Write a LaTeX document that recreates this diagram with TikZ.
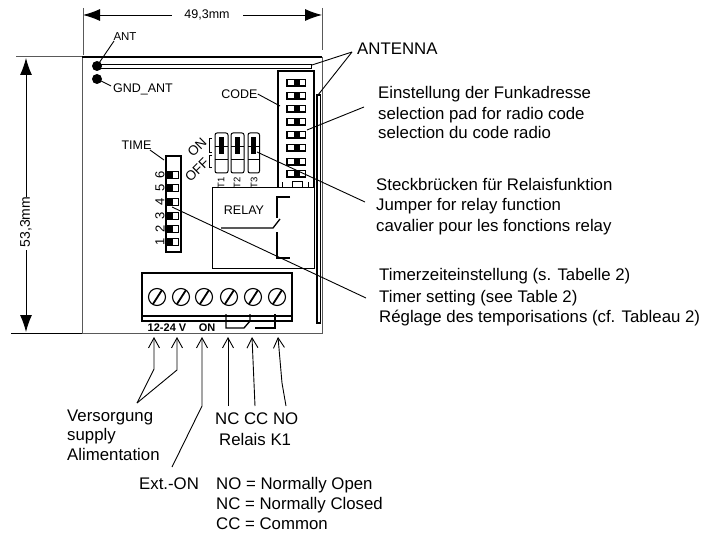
\documentclass[tikz,border=0pt]{standalone}
\usepackage{fontspec}
\setmainfont{Liberation Sans}
\usetikzlibrary{arrows.meta}
\tikzset{
  lab/.style={font=\fontsize{16.8}{19}\selectfont,anchor=base west,inner sep=0pt,align=left},
  small/.style={font=\fontsize{11.5}{13}\selectfont,inner sep=0pt},
  thin line/.style={line width=0.9pt},
  dimarrow/.style={line width=0.9pt,{Latex[length=17pt,width=12pt]}-},
  openarrow/.style={line width=0.9pt,-{Straight Barb[length=10pt,width=11pt]}},
  wire/.style={line width=1.3pt},
}
\begin{document}
\begin{tikzpicture}[x=1pt,y=-1pt]
\useasboundingbox (0,0) rectangle (719,537);
% dimensions
\coordinate (dl) at (83,15); \coordinate (dr) at (322,15);
\node[small,font=\fontsize{12.5}{13}\selectfont] (w) at (207,15) {49,3mm};
\draw[dimarrow] (dl) -- (172,15);
\draw[dimarrow] (dr) -- (243,15);
\draw[line width=0.7pt,gray!70!black] (83,8) -- (83,55);
\draw[line width=0.7pt,gray!70!black] (322,8) -- (322,50);
\draw[line width=1pt,gray!70!black] (16,57) -- (82,57);
\draw[thin line] (11,333) -- (86,333);
\node[small,rotate=90,font=\fontsize{14}{15}\selectfont] (h) at (26,222) {53,3mm};
\draw[dimarrow] (26,58) -- (26,197);
\draw[dimarrow] (26,332) -- (26,250);
% board
\draw[line width=0.8pt,gray!70!black] (82,333) -- (82,57);
\draw[line width=1.6pt] (82,57) -- (322,57);
\draw[line width=0.8pt,gray!70!black] (322,57) -- (322,333) -- (82,333);
% antenna strips
\draw[line width=0.8pt] (98,64) rectangle (311,68);
\draw[line width=1.2pt] (317,95) rectangle (320.5,323);
\fill (97,66) circle (5);
\fill (97,79) circle (5);
% code box
\draw[line width=1.2pt] (278,71) rectangle (314,188);
\foreach \y in {83,96,109,122,135,148,162,174}{
  \fill (286,\y-4) rectangle (306,\y+4);
  \fill[white] (288,\y-2.5) rectangle (293.5,\y+2.5);
  \fill[white] (300,\y-2.5) rectangle (304.5,\y+2.5);
}
\draw[line width=1pt] (282,187) -- (282,182) (292,187) -- (292,182) -- (302,182) -- (302,187) (308,187) -- (308,182);
% jumpers
\foreach \x/\w/\t in {215/13/T1,231/13/T2,248/11.5/T3}{
  \draw[line width=1pt,rounded corners=2pt] (\x,133) rectangle (\x+\w,173);
  \draw[line width=1pt] (\x,147) -- (\x+\w,147);
  \draw[line width=1pt] (\x,160) -- (\x+\w,160);
  \fill (\x+\w/2-2.5,137) rectangle (\x+\w/2+2.5,154);
}
\node[small,rotate=90,font=\fontsize{9.5}{10}\selectfont] at (221,183) {T1};
\node[small,rotate=90,font=\fontsize{9.5}{10}\selectfont] at (237,183) {T2};
\node[small,rotate=90,font=\fontsize{9.5}{10}\selectfont] at (254,183) {T3};
\node[small,rotate=45,font=\fontsize{13.5}{14}\selectfont] at (197,147) {ON};
\node[small,rotate=45,font=\fontsize{13.5}{14}\selectfont] at (197,170) {OFF};
\draw[line width=0.6pt] (212,138) -- (209,138) -- (209,152) -- (212,152);
\draw[line width=0.6pt] (212,155) -- (209,155) -- (209,167) -- (212,167);
% TIME
\draw[line width=1.6pt] (166,156) rectangle (181,252);
\foreach \y/\n in {175/6,188/5,202/4,216/3,229/2,242/1}{
  \fill (166,\y-4) rectangle (172,\y+4);
  \draw[line width=0.6pt] (172,\y-3.5) rectangle (178,\y+3.5);
  \node[small,rotate=90,font=\fontsize{13}{14}\selectfont] at (160,\y) {\n};
}
% relay
\draw[fill=white,line width=0.8pt] (212,187) rectangle (314,268);
\node[small,font=\fontsize{12.5}{13}\selectfont] (relay) at (244,210) {RELAY};
\draw[wire] (290,197) -- (277,197) -- (277,218);
\draw[wire] (221,228) -- (273,228) -- (280,219);
\draw[wire] (277,232) -- (277,258) -- (290,258);
% terminal
\draw[line width=1.2pt] (142,273) rectangle (292,321);
\draw[line width=2.2pt] (142,316) -- (292,316);
\foreach \x in {157,181,204,229,253,277}{
  \draw[line width=1.1pt] (\x,297) circle (8.5);
  \draw[line width=1.8pt] (\x-4,304) -- (\x+5,290);
}
\draw[wire] (226,314) -- (226,328) -- (244,328) -- (250,321) -- (250,314);
\draw[wire] (255,328) -- (275,328) -- (275,314);
\node[small,font=\bfseries\fontsize{11}{12}\selectfont] at (167,328) {12-24 V};
\node[small,font=\bfseries\fontsize{11}{12}\selectfont] at (207,328) {ON};
% small labels
\node[small] (ant) at (125,36.5) {ANT};
\node[small,font=\fontsize{12.5}{13}\selectfont] (gnd) at (143,89) {GND\_ANT};
\node[small,font=\fontsize{12.5}{13}\selectfont] (code) at (239.5,94) {CODE};
\node[small,font=\fontsize{12.5}{13}\selectfont] (time) at (136.5,145) {TIME};
\draw[thin line] (114,41) -- (97,66);
\draw[thin line] (111,86) -- (97,79);
\draw[thin line] (code.east) -- (280,106);
\draw[thin line] (150,150) -- (164,160);
% right labels
\node[lab] (antenna) at (357,55) {ANTENNA};
\node[lab] (code1) at (378,99) {Einstellung der Funkadresse};
\node[lab] at (378,120) {selection pad for radio code};
\node[lab] at (378,139) {selection du code radio};
\node[lab] (stk) at (376,191) {Steckbrücken für Relaisfunktion};
\node[lab] at (376,211) {Jumper for relay function};
\node[lab] at (376,231) {cavalier pour les fonctions relay};
\node[lab] (tm) at (379,280) {Timerzeiteinstellung (s. Tabelle 2)};
\node[lab] at (379,302) {Timer setting (see Table 2)};
\node[lab] at (379,322) {Réglage des temporisations (cf. Tableau 2)};
\coordinate (a0) at (352,52);
\draw[thin line] (a0) -- (312,65);
\draw[thin line] (a0) -- (318,95);
\draw[thin line] (364,107) -- (307,130);
\draw[thin line] (257,152) -- (365,202);
\draw[thin line] (172,207) -- (366,298);
% bottom
\node[lab] (v) at (67,421) {Versorgung};
\node[lab] at (67,440) {supply};
\node[lab] at (67,460) {Alimentation};
\node[lab] (nc) at (215,424) {NC CC NO};
\node[lab] at (219,445) {Relais K1};
\node[lab] (ext) at (139,489) {Ext.-ON};
\node[lab] at (216,489) {NO = Normally Open};
\node[lab] at (216,509) {NC = Normally Closed};
\node[lab] at (216,529) {CC = Common};
\coordinate (b0) at (137,403);
\draw[openarrow] (b0) -- (154,369) -- (154,337);
\draw[openarrow] (b0) -- (177,370) -- (177,337);
\draw[openarrow] (172,467) -- (202,406) -- (202,337);
\draw[openarrow] (228,406) -- (228,337);
\draw[openarrow] (255,406) -- (252,337);
\draw[openarrow] (286,406) -- (282,383) -- (278,337);
\end{tikzpicture}
\end{document}
